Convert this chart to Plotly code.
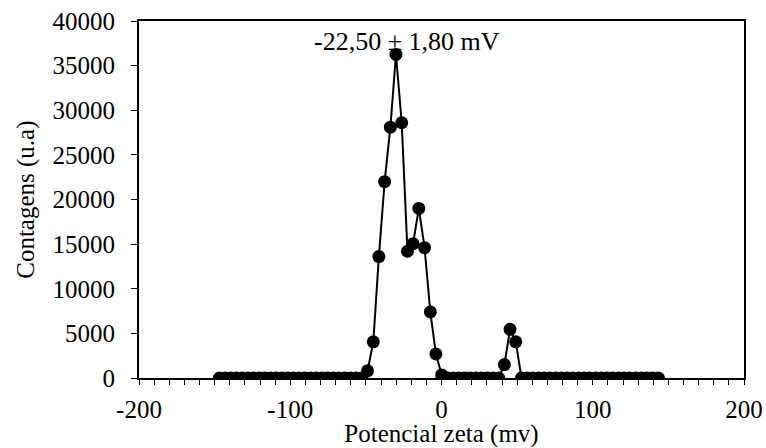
import plotly.graph_objects as go

potencial = [-146.9, -143.2, -139.4, -135.6, -131.9, -128.1, -124.3, -120.5, -116.8, -113.0,
             -109.2, -105.5, -101.7, -97.9, -94.2, -90.4, -86.6, -82.8, -79.1, -75.3,
             -71.5, -67.8, -64.0, -60.2, -56.5, -52.7, -48.9, -45.1, -41.4, -37.6,
             -33.8, -30.1, -26.3, -22.5, -18.8, -15.0, -11.2, -7.4, -3.7, 0.1,
             3.9, 7.6, 11.4, 15.2, 19.0, 22.7, 26.5, 30.3, 34.0, 37.8,
             41.6, 45.3, 49.1, 52.9, 56.7, 60.4, 64.2, 68.0, 71.7, 75.5,
             79.3, 83.0, 86.8, 90.6, 94.4, 98.1, 101.9, 105.7, 109.4, 113.2,
             117.0, 120.7, 124.5, 128.3, 132.1, 135.8, 139.6, 143.4]

contagens = [0, 0, 0, 0, 0, 0, 0, 0, 0, 0,
             0, 0, 0, 0, 0, 0, 0, 0, 0, 0,
             0, 0, 0, 0, 0, 0, 800, 4050, 13600, 22000,
             28100, 36250, 28600, 14200, 15050, 19000, 14600, 7400, 2700, 350,
             0, 0, 0, 0, 0, 0, 0, 0, 0, 0,
             1500, 5450, 4050, 0, 0, 0, 0, 0, 0, 0,
             0, 0, 0, 0, 0, 0, 0, 0, 0, 0,
             0, 0, 0, 0, 0, 0, 0, 0]

x_ticks = [-200, -100, 0, 100, 200]
y_ticks = [0, 5000, 10000, 15000, 20000, 25000, 30000, 35000, 40000]
rotulo = "-22,50 ± 1,80 mV"
titulo_x = "Potencial zeta (mv)"
titulo_y = "Contagens (u.a)"

FONT = "Liberation Serif, Times New Roman, serif"
FS = 25

fig = go.Figure()
fig.add_trace(go.Scatter(
    x=potencial, y=contagens, mode="lines+markers",
    line=dict(color="black", width=2),
    marker=dict(color="black", size=13, symbol="circle"),
    showlegend=False,
))

fig.add_annotation(x=-22.5, y=37700, xref="x", yref="y", text=rotulo,
                   showarrow=False, font=dict(family=FONT, size=26, color="black"),
                   xanchor="center", yanchor="middle")

# y-axis title as a rotated annotation so it can sit close to the page edge
fig.add_annotation(x=-0.188, y=0.5, xref="paper", yref="paper", text=titulo_y,
                   textangle=-90, showarrow=False,
                   font=dict(family=FONT, size=FS, color="black"),
                   xanchor="center", yanchor="middle")

fig.update_layout(
    width=766, height=448,
    margin=dict(l=139, r=22, t=21, b=70),
    paper_bgcolor="white", plot_bgcolor="white",
    font=dict(family=FONT, size=FS, color="black"),
)

fig.update_xaxes(
    range=[-200, 200], tickvals=x_ticks, ticktext=[str(v) for v in x_ticks],
    showgrid=False, zeroline=False, automargin=False,
    showline=True, linecolor="black", linewidth=1.5, mirror=True,
    ticks="outside", ticklen=5, tickwidth=1, tickcolor="black",
    minor=dict(dtick=10, ticks="outside", ticklen=5, tickwidth=1, tickcolor="black", showgrid=False),
    ticklabelstandoff=3, ticklabeloverflow="allow",
    title=dict(text=titulo_x, standoff=2, font=dict(size=FS)),
    tickfont=dict(size=FS),
)
fig.update_yaxes(
    range=[0, 40000], tickvals=y_ticks, ticktext=[str(v) for v in y_ticks],
    showgrid=False, zeroline=False, automargin=False,
    showline=True, linecolor="black", linewidth=2, mirror=True,
    ticks="outside", ticklen=6, tickwidth=1, tickcolor="black",
    ticklabelstandoff=11, ticklabeloverflow="allow",
    tickfont=dict(size=FS),
)

# remove the default 8px page margin so the figure fills the window exactly
fig.write_html("out.html", config={"displayModeBar": False},
               post_script="document.body.style.margin='0';document.body.style.overflow='hidden';")
